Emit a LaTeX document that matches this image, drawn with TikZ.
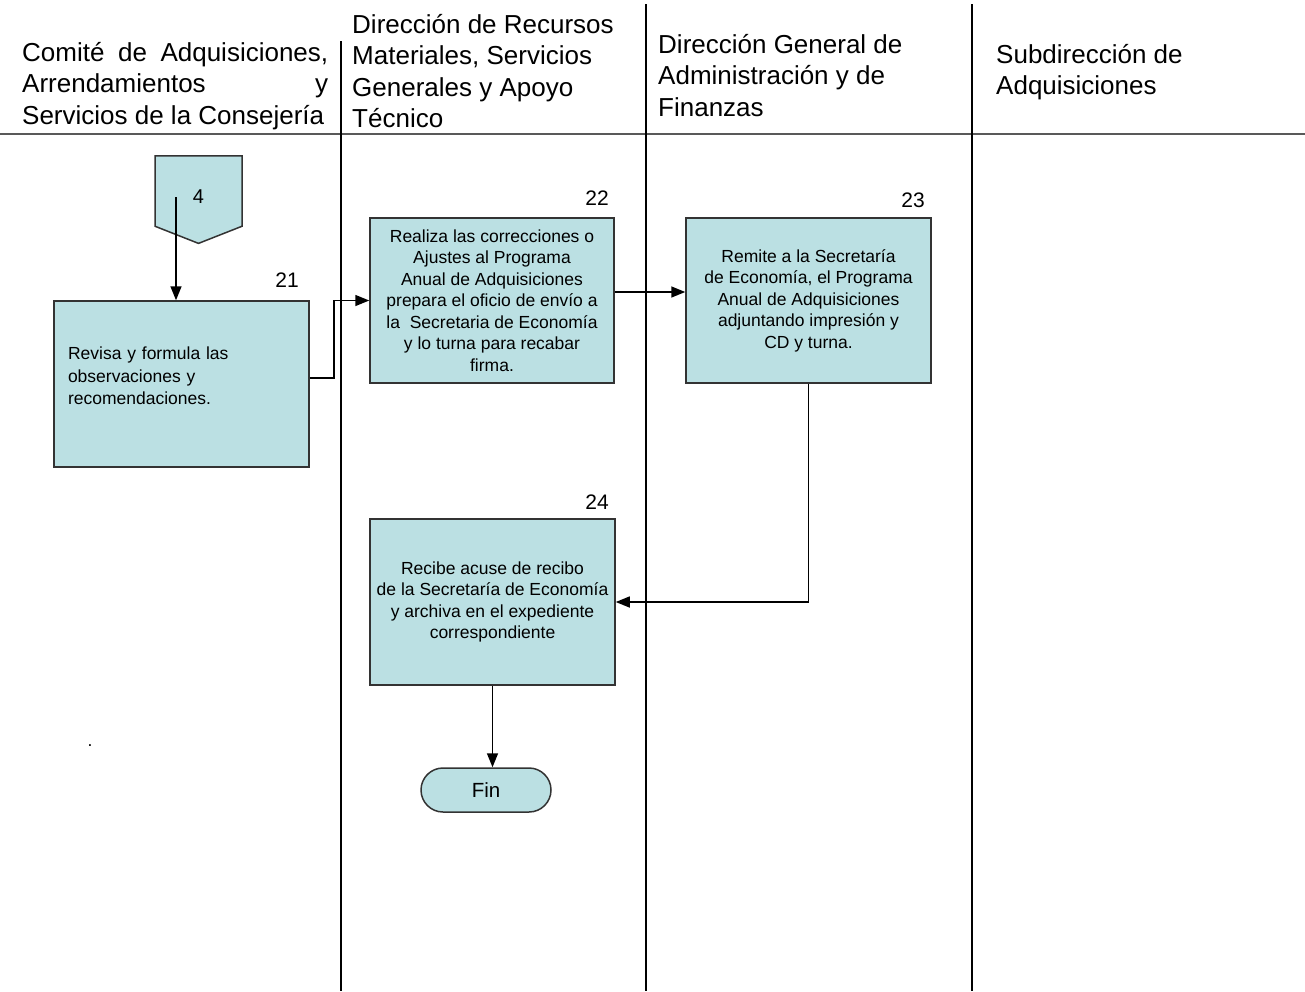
\documentclass[tikz,border=0pt]{standalone}
\usepackage{fontspec}
\setmainfont{Liberation Sans}
\usetikzlibrary{arrows.meta,shapes.symbols}
\definecolor{boxfill}{HTML}{BBE0E3}
\definecolor{boxline}{HTML}{333333}
\tikzstyle{Process}=[shape=rectangle, fill=boxfill, draw=boxline, line width=1.5pt, inner sep=6pt, align=center, font=\fontsize{17.5}{21.5}\selectfont]
\tikzstyle{Terminal}=[shape=rectangle, rounded corners=22pt, fill=boxfill, draw=boxline, line width=1.5pt, minimum width=130pt, minimum height=44pt, font=\fontsize{20.5}{24}\selectfont]
\tikzstyle{OffPage}=[shape=signal, signal to=south, signal pointer angle=137, fill=boxfill, draw=boxline, line width=1.5pt, minimum width=87pt, minimum height=74pt, font=\fontsize{20}{24}\selectfont]
\tikzstyle{Number}=[inner sep=0pt, font=\fontsize{21}{25}\selectfont]
\tikzstyle{Lane}=[anchor=north west, inner sep=0pt, align=left, font=\fontsize{26}{31.5}\selectfont]
\tikzstyle{arrow}=[line width=1.5pt, -{Triangle[length=14pt, width=11pt]}]
\tikzstyle{divider}=[line width=1.3pt]
\pgfdeclarelayer{nodelayer}
\pgfdeclarelayer{edgelayer}
\pgfsetlayers{main, nodelayer, edgelayer}

\begin{document}
\begin{tikzpicture}[x=1pt, y=-1pt]
	\useasboundingbox (0,0) rectangle (1305,991);
	% swimlanes
	\draw [divider, draw=black!65, line width=2.2pt] (0,134) -- (1305,134);
	\draw [divider] (341,41) -- (341,991);
	\draw [divider] (646,4) -- (646,991);
	\draw [divider] (972,4) -- (972,991);
	\node [style=Lane] (lane1) at (22,42) {\makebox[306pt][s]{Comité de Adquisiciones,}\\\makebox[306pt][s]{Arrendamientos y}\\Servicios de la Consejería};
	\node [style=Lane] (lane2) at (352,14) {Dirección de Recursos\\Materiales, Servicios\\Generales y Apoyo\\Técnico};
	\node [style=Lane] (lane3) at (658,34) {Dirección General de\\Administración y de\\Finanzas};
	\node [style=Lane] (lane4) at (996,44) {Subdirección de\\Adquisiciones};

	\begin{pgfonlayer}{nodelayer}
		\node [style=OffPage, text height=24pt, text depth=0pt] (page4) at (198.5,191) {4};
		\node [style=Process, minimum width=255pt, minimum height=166pt, text width=227pt, align=left, inner xsep=14pt] (step21) at (181.5,384) {Revisa y formula las\\[1pt]observaciones y\\[1pt]recomendaciones.\\[-5pt]\mbox{}};
		\node [style=Process, minimum width=244pt, minimum height=165pt] (step22) at (492,300.5) {Realiza las correcciones o\\Ajustes al Programa\\Anual de Adquisiciones\\prepara el oficio de envío a\\la~ Secretaria de Economía\\y lo turna para recabar\\firma.};
		\node [style=Process, minimum width=245pt, minimum height=165pt] (step23) at (808.5,300.5) {\raisebox{-1.5pt}{\parbox{225pt}{\centering Remite a la Secretaría\\de Economía, el Programa\\Anual de Adquisiciones\\adjuntando impresión y\\CD y turna.}}};
		\node [style=Process, minimum width=245pt, minimum height=166pt] (step24) at (492.5,602) {Recibe acuse de recibo\\de la Secretaría de Economía\\y archiva en el expediente\\correspondiente};
		\node [style=Terminal] (fin) at (486,790) {Fin};
		\node [style=Number] (num21) at (287,280) {21};
		\node [style=Number] (num22) at (597,198) {22};
		\node [style=Number] (num23) at (913,200) {23};
		\node [style=Number] (num24) at (597,502) {24};
		\node [inner sep=0pt, font=\fontsize{17.5}{21.5}\selectfont] (dot) at (90,746) {.};
		\coordinate (start4) at (176,197);
	\end{pgfonlayer}
	\begin{pgfonlayer}{edgelayer}
		\draw [style=arrow] (start4) to (start4 |- step21.north);
		\draw [style=arrow] ([yshift=6pt]step21.east) -- ++(24,0) |- (step22.west);
		\draw [style=arrow] ([yshift=8.5pt]step22.east) to ([yshift=8.5pt]step23.west);
		\draw [style=arrow] (step23.south) |- (step24.east);
		\draw [style=arrow] (step24.south) to (step24.south |- fin.north);
	\end{pgfonlayer}
\end{tikzpicture}
\end{document}
